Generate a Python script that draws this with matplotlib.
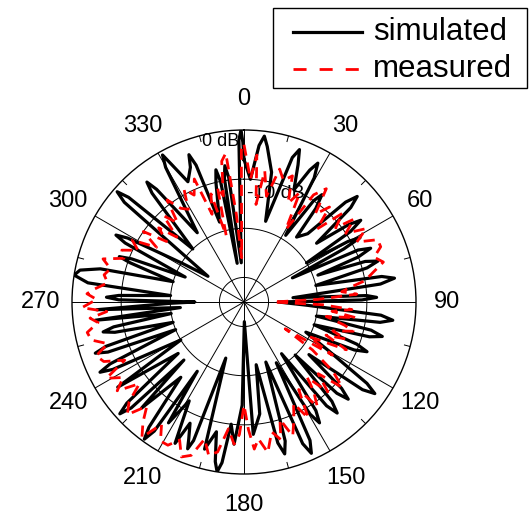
import numpy as np
import matplotlib.pyplot as plt
from matplotlib.lines import Line2D
from matplotlib.patches import Rectangle

plt.rcParams['font.family'] = ['Liberation Sans', 'DejaVu Sans']

# simulated pattern: angle (deg, clockwise from top) and level (dB)
sim_ang = [0, 3, 5.5, 7, 8.5, 12, 15, 18.5, 20, 21.5, 24, 26.5, 28, 29.5,
           32, 34.5, 36, 37.5, 39, 43, 45.5, 47, 48.5, 51, 53.5, 55, 56.5, 58,
           59.8, 61, 62, 63.5, 65.5, 67, 68.5, 70, 71.5, 73, 74.5, 77, 79.5, 81,
           82.5, 85, 87, 88, 89, 90, 93, 95.5, 97, 98.5, 101, 102.5, 104, 105.5,
           108, 110.5, 112, 113.5, 116, 120, 123.5, 125, 126.5, 129, 131.5, 133,
           134.5, 136, 138.5, 140, 141.5, 144, 146.5, 148, 149.5, 152, 154.5, 156,
           157.5, 160, 163.5, 165, 166.5, 169, 172, 176, 179, 181, 184, 186,
           187.8, 189, 190.2, 192, 195, 198, 200, 201, 202, 204, 206, 209, 212,
           214, 214.8, 216, 217.2, 220, 224, 226, 226.8, 228, 229.2, 232, 236,
           239, 242.8, 244, 245.2, 248, 249.8, 251, 252.2, 254, 256.8, 258, 259.2,
           261, 263, 265, 267, 269, 270, 271, 272, 273, 275, 277, 279, 281, 283,
           286, 289, 290, 291, 293, 296.4, 297.6, 298.8, 302, 305.5, 309.8, 311,
           312.2, 316, 319.8, 321, 322.2, 326, 329.8, 331, 332.2, 335, 338.3,
           339.5, 340.7, 343, 346.8, 348, 349, 350, 351, 352, 353, 356, 358.2,
           359, 359.6, 360]
sim_db = [-6, -10, -3, -1, -3, -8, -18, -4, -2, -5, -10, -5, -3, -6,
          -19, -10, -8, -11, -18, -16, -6, -3.5, -6, -16, -8.5, -6, -9, -20,
          -10.5, -8, -12, -24, -9.5, -7, -10, -19, -9, -6.5, -9, -20, -6.5, -4,
          -7, -25, -10, -8, -11, -28, -22, -7, -4.5, -7, -20, -8.5, -6, -8.5,
          -20, -10.5, -8, -10.5, -21, -15, -5, -2.5, -5, -18, -8.5, -6,
          -8.5, -20, -8, -5.5, -8, -22, -8.5, -6, -8.5, -21, -3.8, -1.3,
          -3.8, -22, -5.5, -3, -5.5, -22, -12, -8, -31, -14, -6, -10,
          -2, 0, -2, -8, -4, -23, -5, -3, -5, -8, -3, -12, -6,
          -18, -3, -0.5, -3, -15, -5, -18, -3.5, -1, -3.5, -18, -4,
          -20, -5, -2.4, -5, -20, -5.5, -3, -5.5, -20, -8, -5.7, -8,
          -20, -4.5, -22, -5, -20, -25, -9.5, -7, -9.5, -20, -3, 0, -1, -5,
          -20, -10.5, -8, -10.5, -22, -8, -5.6, -8, -20, -26, -3.3, -0.8,
          -3.3, -20, -6, -3.6, -6, -18, -3.3, -0.8, -3.3, -8, -5.5,
          -3, -5.5, -18, -10, -7.5, -10, -27, -9.5, -7, -9.5, -27, -2,
          0, -2.5, -6]

# measured pattern
meas_ang = [0, 3, 5, 7, 9, 12, 15, 18, 21, 24, 27, 30, 33, 36, 39, 42, 45, 48, 51,
            53, 56, 59, 62, 65, 68, 71, 74, 77, 80, 82, 84, 86, 88, 90, 92, 94, 96,
            98, 100, 103, 105, 108, 110, 112, 115, 118, 121, 123, 125, 128, 131,
            134, 137, 140, 142, 145, 148, 151, 154, 157, 160, 163, 165, 168, 171,
            174, 176, 178, 180, 182, 184, 187, 190, 193, 196, 199, 202, 205, 208,
            211, 214, 217, 220, 223, 226, 229, 232, 235, 238, 241, 244, 247, 250,
            253, 256, 259, 262, 264, 266, 268, 271, 273, 275, 278, 281, 284, 287,
            290, 293, 296, 299, 302, 305, 308, 311, 314, 317, 320, 323, 326, 329,
            332, 335, 338, 340, 343, 345, 347, 349, 351, 353, 355, 357, 359, 360]
meas_db = [-3, -10, -5, -15, -8, -13, -7, -9, -7.5, -13, -10, -18, -9, -6.5, -12,
           -9, -14, -8, -11, -7, -10, -6, -9, -5, -5, -7, -5.5, -8, -10, -13, -15,
           -12, -20, -29, -19, -13, -17, -12, -18, -14, -12, -16, -13, -17, -12,
           -20, -14, -25, -18, -12, -8.5, -14, -10, -15, -12, -9, -14, -8, -12,
           -9, -6, -10, -6, -8, -4, -7, -5, -9, -14, -8, -6, -9, -4, -3, -6, -2,
           -1, -4, -2, -2, -5, -0.5, -3, -6, -2, -4, -8, -3.5, -6, -3, -8, -4,
           -3, -6, -3, -2.5, -5, -3.5, -7, -2, -5, -3, -4.5, -7, -6, -7, -5, -9,
           -8, -11, -9, -14, -10, -15, -12, -16, -11, -14, -9, -12, -13, -9, -11,
           -8, -16, -12, -21, -11, -13, -6, -4.5, -17, -26, -4, -3]

ring_db = [-30, -20, -10, 0]
floor_db = -35
r_max = 0 - floor_db

W, H = 530, 518
fig = plt.figure(figsize=(W / 100, H / 100), dpi=100)
ax = fig.add_axes([72 / W, 44 / H, 344 / W, 344 / H], projection='polar')
ax.set_theta_zero_location('N')
ax.set_theta_direction(-1)
ax.set_ylim(0, r_max)
ax.set_xticks([])
ax.set_yticks([])
ax.grid(False)
ax.spines['polar'].set_linewidth(1.0)

# grid: rings, spokes and small ticks
t = np.linspace(0, 2 * np.pi, 361)
for d in ring_db[:-1]:
    ax.plot(t, np.full_like(t, d - floor_db), color='k', lw=0.7, zorder=1)
for a in range(0, 360, 30):
    ax.plot([np.deg2rad(a)] * 2, [0, r_max], color='k', lw=0.7, zorder=1)
for a in range(15, 360, 30):
    ax.plot([np.deg2rad(a)] * 2, [r_max - 1.2, r_max], color='k', lw=0.7, zorder=1)

ax.plot(np.deg2rad(sim_ang), np.array(sim_db) - floor_db, color='k', lw=2.3, zorder=3)
ax.plot(np.deg2rad(meas_ang), np.array(meas_db) - floor_db, color='red', lw=2.0,
        ls=(0, (4, 2.5)), zorder=4)

for a in range(0, 360, 30):
    ax.text(np.deg2rad(a), r_max * 1.18, str(a), ha='center', va='center', fontsize=17)

ax.text(0.485, 0.968, '0 dB', transform=ax.transAxes, ha='right', va='center', fontsize=13)
ax.text(0.509, 0.814, '-10 dB', transform=ax.transAxes, ha='left', va='center', fontsize=14)

# legend box drawn in figure pixels
def fx(px):
    return px / W

def fy(py):
    return 1 - py / H

fig.patches.append(Rectangle((fx(273), fy(88)), fx(527) - fx(273), fy(8) - fy(88),
                             transform=fig.transFigure, fill=True, facecolor='white',
                             edgecolor='black', lw=1.0))
fig.lines.append(Line2D([fx(293), fx(362)], [fy(32), fy(32)], color='k', lw=2.3,
                        transform=fig.transFigure))
fig.lines.append(Line2D([fx(293), fx(362)], [fy(69), fy(69)], color='red', lw=2.0,
                        ls=(0, (4.7, 4.7)), transform=fig.transFigure))
fig.text(fx(373), fy(32), 'simulated', ha='left', va='center', fontsize=22.5)
fig.text(fx(373), fy(69), 'measured', ha='left', va='center', fontsize=22.5)

fig.savefig('out.png', dpi=100)
